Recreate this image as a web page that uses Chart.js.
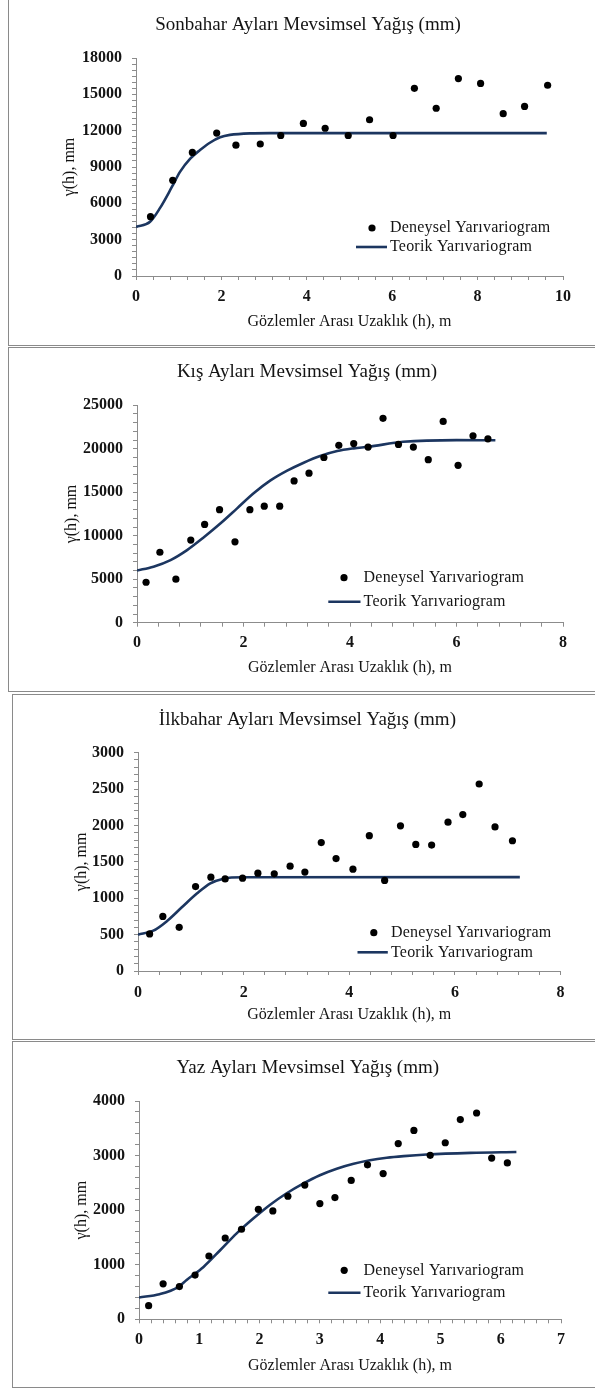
<!DOCTYPE html>
<html>
<head>
<meta charset="utf-8">
<script src="https://cdn.jsdelivr.net/npm/chart.js@4.4.0/dist/chart.umd.min.js"></script>
<style>
  body { margin: 0; background: #fff; width: 595px; height: 1389px; overflow: hidden; position: relative; }
  .panel { position: absolute; box-sizing: border-box; border: 1px solid #8a8a8a; background: #fff; }
  canvas { position: absolute; }
</style>
</head>
<body>
<div class="panel" style="left:8px;top:-1px;width:600px;height:347px"></div>
<div class="panel" style="left:8px;top:347px;width:600px;height:345px"></div>
<div class="panel" style="left:12px;top:694px;width:600px;height:346px"></div>
<div class="panel" style="left:12px;top:1041px;width:600px;height:347px"></div>
<canvas id="c1"></canvas>
<canvas id="c2"></canvas>
<canvas id="c3"></canvas>
<canvas id="c4"></canvas>
<script>
// --- Sonbahar (autumn) ---
const sonbaharDenX = [0.34, 0.86, 1.32, 1.89, 2.34, 2.91, 3.39, 3.92, 4.43, 4.97, 5.47, 6.02, 6.52, 7.03, 7.55, 8.07, 8.60, 9.10, 9.64];
const sonbaharDenY = [4900, 7900, 10200, 11800, 10800, 10900, 11600, 12600, 12200, 11600, 12900, 11600, 15500, 13850, 16300, 15900, 13400, 14000, 15750];
const sonbaharTeoX = [0, 0.33, 0.56, 0.84, 1.03, 1.27, 1.5, 1.73, 1.97, 2.2, 2.67, 3.14, 9.62];
const sonbaharTeoY = [4050, 4480, 5600, 7350, 8600, 9700, 10400, 11000, 11450, 11650, 11780, 11800, 11800];
const sonbaharXLabels = [0, 2, 4, 6, 8, 10];
const sonbaharYLabels = [0, 3000, 6000, 9000, 12000, 15000, 18000];

// --- Kış (winter) ---
const kisDenX = [0.17, 0.43, 0.73, 1.01, 1.27, 1.55, 1.84, 2.12, 2.39, 2.68, 2.95, 3.23, 3.51, 3.79, 4.07, 4.34, 4.62, 4.91, 5.19, 5.47, 5.75, 6.03, 6.31, 6.59];
const kisDenY = [4650, 8100, 5000, 9500, 11300, 13000, 9300, 13000, 13400, 13400, 16300, 17200, 19000, 20400, 20600, 20200, 23500, 20500, 20200, 18750, 23150, 18100, 21500, 21150];
const kisTeoX = [0, 0.31, 0.63, 0.94, 1.25, 1.57, 1.88, 2.19, 2.5, 2.82, 3.13, 3.44, 3.76, 4.07, 4.35, 5.0, 6.0, 6.73];
const kisTeoY = [6000, 6440, 7200, 8350, 9800, 11430, 13150, 14880, 16330, 17480, 18400, 19170, 19740, 20050, 20240, 20800, 21000, 20980];
const kisXLabels = [0, 2, 4, 6, 8];
const kisYLabels = [0, 5000, 10000, 15000, 20000, 25000];

// --- İlkbahar (spring) ---
const ilkbaharDenX = [0.22, 0.47, 0.78, 1.09, 1.38, 1.65, 1.98, 2.27, 2.58, 2.88, 3.16, 3.47, 3.75, 4.07, 4.38, 4.67, 4.97, 5.26, 5.56, 5.87, 6.15, 6.46, 6.76, 7.09];
const ilkbaharDenY = [510, 750, 600, 1160, 1290, 1265, 1275, 1345, 1335, 1440, 1360, 1765, 1545, 1400, 1860, 1245, 1995, 1740, 1730, 2045, 2150, 2570, 1980, 1790];
const ilkbaharTeoX = [0, 0.29, 0.55, 0.83, 1.12, 1.37, 1.62, 1.98, 7.23];
const ilkbaharTeoY = [500, 554, 687, 875, 1067, 1205, 1269, 1288, 1290];
const ilkbaharXLabels = [0, 2, 4, 6, 8];
const ilkbaharYLabels = [0, 500, 1000, 1500, 2000, 2500, 3000];

// --- Yaz (summer) ---
const yazDenX = [0.16, 0.40, 0.67, 0.93, 1.16, 1.43, 1.70, 1.98, 2.22, 2.47, 2.75, 3.00, 3.25, 3.52, 3.79, 4.05, 4.30, 4.56, 4.83, 5.08, 5.33, 5.60, 5.85, 6.11];
const yazDenY = [250, 650, 600, 810, 1160, 1490, 1650, 2015, 1985, 2255, 2460, 2120, 2230, 2545, 2830, 2670, 3220, 3460, 3005, 3235, 3660, 3780, 2955, 2865];
const yazTeoX = [0, 0.34, 0.65, 0.79, 1.07, 1.35, 1.62, 1.9, 2.17, 2.45, 2.73, 3.0, 3.28, 3.56, 3.83, 4.11, 4.39, 4.77, 5.5, 6.26];
const yazTeoY = [400, 460, 590, 720, 960, 1270, 1575, 1850, 2095, 2310, 2490, 2640, 2760, 2850, 2915, 2960, 2990, 3020, 3050, 3065];
const yazXLabels = [0, 1, 2, 3, 4, 5, 6, 7];
const yazYLabels = [0, 1000, 2000, 3000, 4000];

const FONT = "'Liberation Serif', 'Times New Roman', serif";
const AXIS_GREY = '#8c8c8c';
const LINE_BLUE = '#1c3660';
const TEXT = '#141414';
const TITLE_SIZE = 19;
const LABEL_SIZE = 16;

// only the major values get a label, the rest are minor tick marks
function onlyMajor(list) {
  return v => {
    const hit = list.find(t => Math.abs(t - v) < 1e-6);
    return hit === undefined ? '' : String(hit);
  };
}

function toPoints(xs, ys) {
  return xs.map((x, i) => ({ x: x, y: ys[i] }));
}

// legend sits inside the plot area like the Excel one
const legendInside = {
  id: 'legendInside',
  afterDatasetsDraw(chart, args, opts) {
    const { ctx, chartArea } = chart;
    const x0 = chartArea.left, y0 = chartArea.top;
    const [den, teo] = chart.data.datasets;
    ctx.save();
    ctx.fillStyle = '#000';
    ctx.beginPath();
    ctx.arc(x0 + opts.dotX, y0 + opts.dotY, 3.6, 0, Math.PI * 2);
    ctx.fill();
    ctx.strokeStyle = LINE_BLUE;
    ctx.lineWidth = 2.6;
    ctx.beginPath();
    ctx.moveTo(x0 + opts.lineX1, y0 + opts.lineY);
    ctx.lineTo(x0 + opts.lineX2, y0 + opts.lineY);
    ctx.stroke();
    ctx.font = LABEL_SIZE + 'px ' + FONT;
    ctx.letterSpacing = '0.2px';
    ctx.fillStyle = TEXT;
    ctx.textBaseline = 'middle';
    ctx.fillText(den.label, x0 + opts.textX, y0 + opts.dotY);
    ctx.fillText(teo.label, x0 + opts.textX, y0 + opts.lineY);
    ctx.restore();
  }
};

function makeChart(id, box, s, legendPos) {
  const canvas = document.getElementById(id);
  canvas.width = box.w;
  canvas.height = box.h;
  canvas.style.left = box.x + 'px';
  canvas.style.top = box.y + 'px';
  canvas.style.width = box.w + 'px';
  canvas.style.height = box.h + 'px';

  const tLH = TITLE_SIZE * 1.2, lLH = LABEL_SIZE * 1.2;
  const padRight = box.w - box.right;
  const padLeft = 2 * box.titleX - box.w + padRight;
  const xHeight = box.xTitleOff + lLH / 2;

  const tickFont = { family: FONT, size: LABEL_SIZE, weight: 'bold' };
  const grid = { display: true, drawOnChartArea: false, drawTicks: true, tickLength: 4, tickColor: AXIS_GREY, tickWidth: 1 };
  const border = { display: true, color: AXIS_GREY, width: 1 };

  new Chart(canvas, {
    type: 'scatter',
    data: {
      datasets: [
        {
          label: 'Deneysel Yarıvariogram',
          data: toPoints(s.denX, s.denY),
          showLine: false,
          pointRadius: 3.6,
          pointBackgroundColor: '#000',
          pointBorderWidth: 0,
          order: 0
        },
        {
          label: 'Teorik Yarıvariogram',
          data: toPoints(s.teoX, s.teoY),
          showLine: true,
          pointRadius: 0,
          borderColor: LINE_BLUE,
          borderWidth: 2.6,
          cubicInterpolationMode: 'monotone',
          order: 1
        }
      ]
    },
    options: {
      responsive: false,
      animation: false,
      devicePixelRatio: 1,
      layout: { padding: { left: padLeft, right: padRight, top: 0, bottom: box.h - box.bottom - xHeight } },
      plugins: {
        legend: { display: false },
        tooltip: { enabled: false },
        title: {
          display: true,
          text: s.title,
          color: TEXT,
          font: { family: FONT, size: TITLE_SIZE, weight: 'normal' },
          padding: { top: box.titleY - tLH / 2, bottom: box.top - box.titleY - tLH / 2 }
        },
        legendInside: legendPos
      },
      scales: {
        x: {
          type: 'linear',
          min: 0,
          max: s.xLabels[s.xLabels.length - 1],
          ticks: {
            stepSize: s.xMinor,
            maxTicksLimit: 200,
            autoSkip: false,
            maxRotation: 0,
            padding: box.xTickOff - 4 - lLH / 2,
            color: TEXT,
            font: tickFont,
            callback: onlyMajor(s.xLabels)
          },
          grid: grid,
          border: border,
          title: {
            display: true,
            text: 'Gözlemler Arası Uzaklık (h), m',
            color: TEXT,
            font: { family: FONT, size: LABEL_SIZE },
            padding: 0
          },
          afterFit: sc => { sc.height = xHeight; }
        },
        y: {
          type: 'linear',
          min: 0,
          max: s.yLabels[s.yLabels.length - 1],
          ticks: {
            stepSize: s.yMinor,
            maxTicksLimit: 200,
            autoSkip: false,
            padding: 10,
            color: TEXT,
            font: tickFont,
            callback: onlyMajor(s.yLabels)
          },
          grid: grid,
          border: border,
          title: {
            display: true,
            text: 'γ(h), mm',
            color: TEXT,
            font: { family: FONT, size: LABEL_SIZE },
            padding: { top: box.yTitleX - padLeft - lLH / 2, bottom: 0 }
          },
          afterFit: sc => { sc.width = box.left - padLeft; }
        }
      }
    },
    plugins: [legendInside]
  });
}

makeChart('c1',
  { x: 9, y: 0, w: 586, h: 345, left: 127, right: 554, top: 58, bottom: 276, titleX: 299, titleY: 25, yTitleX: 61, xTickOff: 21, xTitleOff: 46 },
  { title: 'Sonbahar Ayları Mevsimsel Yağış (mm)', denX: sonbaharDenX, denY: sonbaharDenY, teoX: sonbaharTeoX, teoY: sonbaharTeoY,
    xLabels: sonbaharXLabels, yLabels: sonbaharYLabels, xMinor: 0.4, yMinor: 500 },
  { dotX: 236, dotY: 170, lineX1: 220, lineX2: 251, lineY: 189, textX: 254 });

makeChart('c2',
  { x: 9, y: 348, w: 586, h: 343, left: 128, right: 554, top: 57.3, bottom: 274.7, titleX: 298, titleY: 24, yTitleX: 63, xTickOff: 20, xTitleOff: 45 },
  { title: 'Kış Ayları Mevsimsel Yağış (mm)', denX: kisDenX, denY: kisDenY, teoX: kisTeoX, teoY: kisTeoY,
    xLabels: kisXLabels, yLabels: kisYLabels, xMinor: 0.4, yMinor: 1000 },
  { dotX: 207, dotY: 172.4, lineX1: 191.3, lineX2: 223.5, lineY: 196.4, textX: 226.6 });

makeChart('c3',
  { x: 13, y: 695, w: 582, h: 344, left: 125, right: 547.5, top: 57.7, bottom: 276, titleX: 294.4, titleY: 25, yTitleX: 69, xTickOff: 21.7, xTitleOff: 44 },
  { title: 'İlkbahar Ayları Mevsimsel Yağış (mm)', denX: ilkbaharDenX, denY: ilkbaharDenY, teoX: ilkbaharTeoX, teoY: ilkbaharTeoY,
    xLabels: ilkbaharXLabels, yLabels: ilkbaharYLabels, xMinor: 0.4, yMinor: 100 },
  { dotX: 235.8, dotY: 180, lineX1: 219.5, lineX2: 249.8, lineY: 199.6, textX: 253 });

makeChart('c4',
  { x: 13, y: 1042, w: 582, h: 345, left: 126, right: 548, top: 59, bottom: 277.3, titleX: 294.8, titleY: 26, yTitleX: 69, xTickOff: 21, xTitleOff: 46 },
  { title: 'Yaz Ayları Mevsimsel Yağış (mm)', denX: yazDenX, denY: yazDenY, teoX: yazTeoX, teoY: yazTeoY,
    xLabels: yazXLabels, yLabels: yazYLabels, xMinor: 0.2, yMinor: 200 },
  { dotX: 205.2, dotY: 169.3, lineX1: 189.3, lineX2: 221.5, lineY: 191.7, textX: 224.6 });
</script>
</body>
</html>
